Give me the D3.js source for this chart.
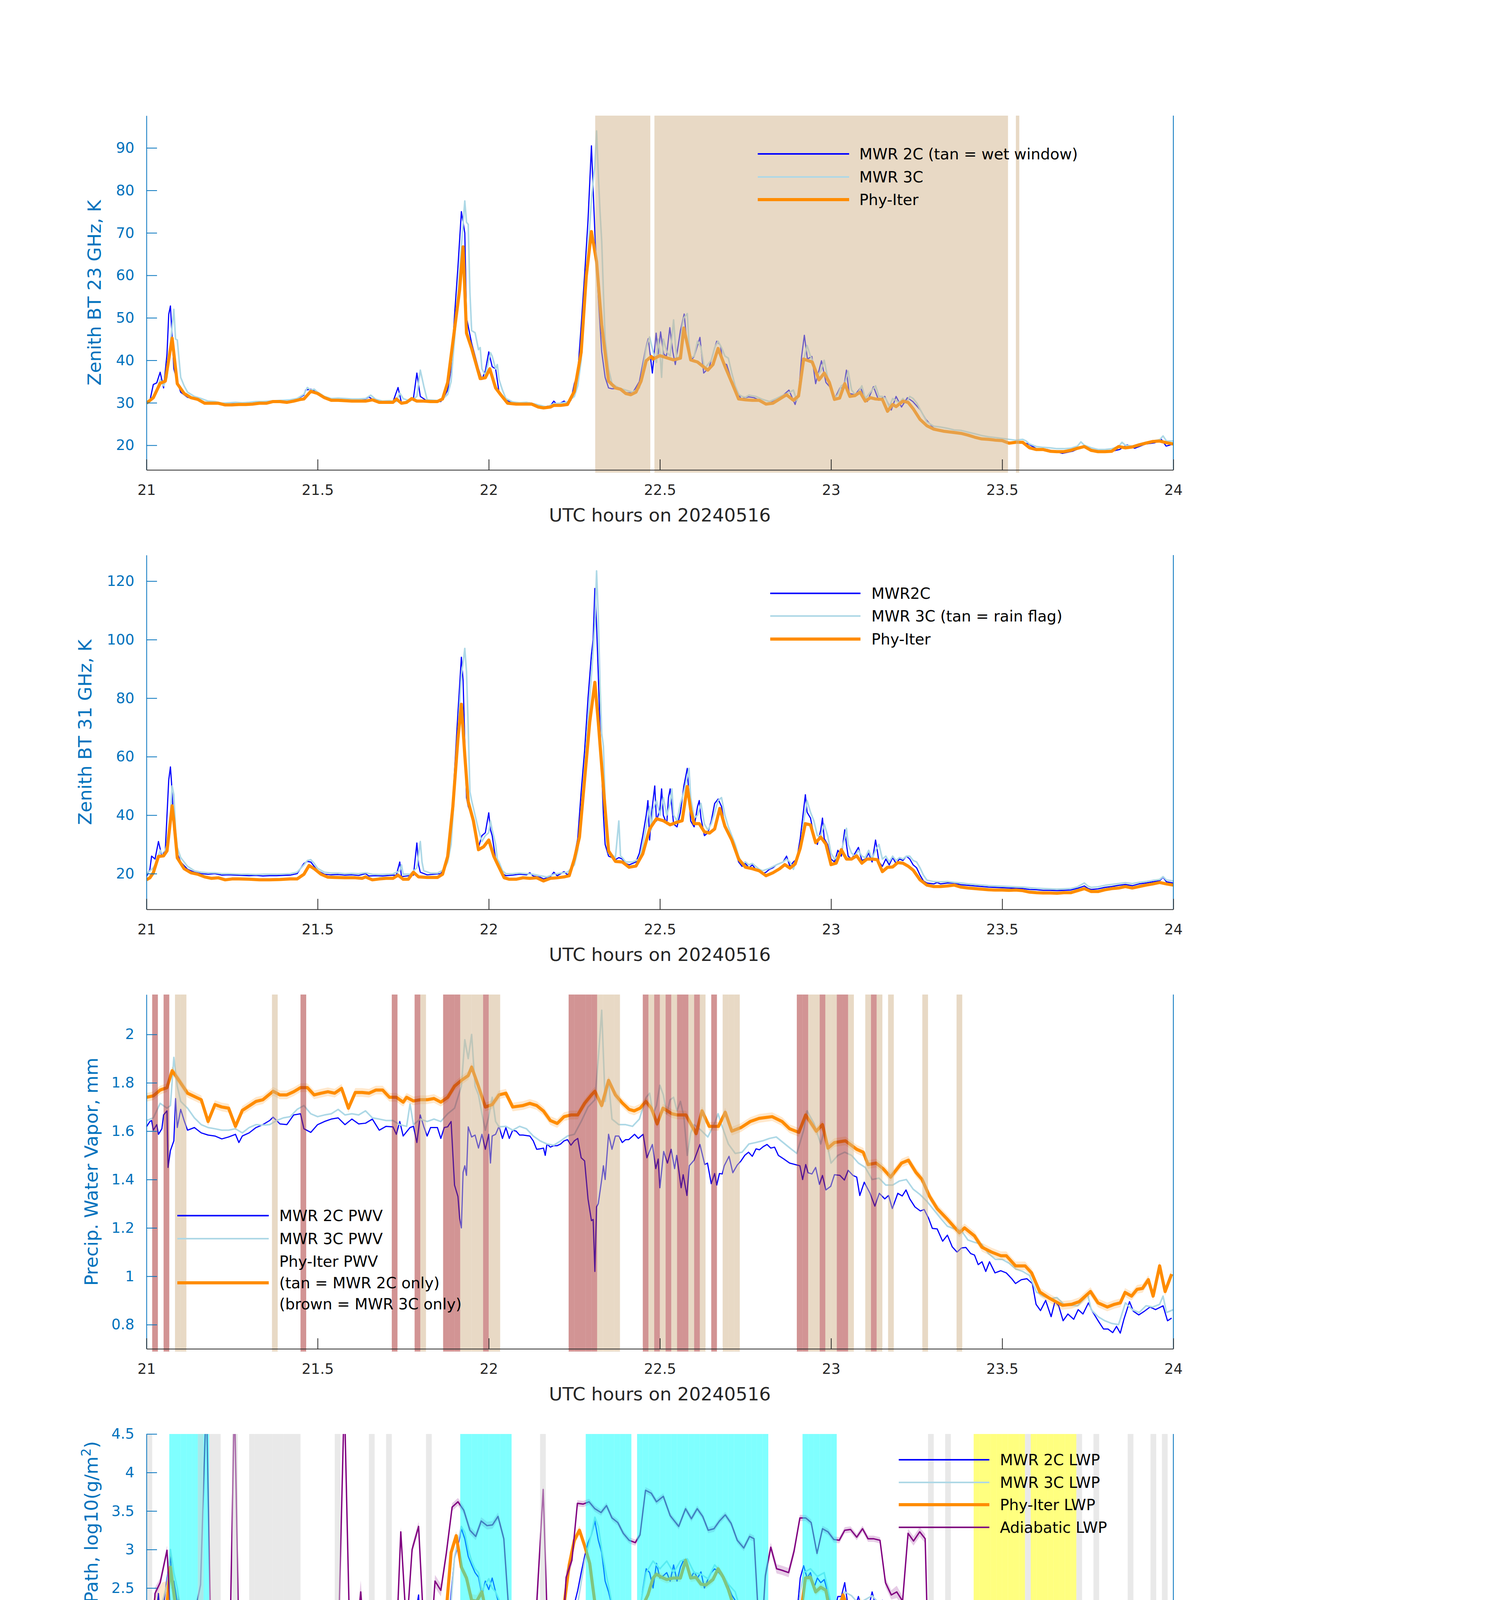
<!DOCTYPE html>
<html>
<head>
<meta charset="utf-8">
<script src="https://cdn.jsdelivr.net/npm/d3@7"></script>
<style>
  body { margin: 0; background: #fff; }
  svg { display: block; }
  text { font-family: "DejaVu Sans", sans-serif; }
</style>
</head>
<body>
<script>
// ---------------- data ----------------
const xTicks = [21, 21.5, 22, 22.5, 23, 23.5, 24];

// panel 1 : zenith BT 23 GHz
const tb23Mwr2c = [[21.00,30.0],[21.01,30.5],[21.02,34.3],[21.03,34.7],[21.04,37.2],[21.05,33.5],[21.06,41.5],[21.065,50.8],[21.07,52.8],[21.08,38.0],[21.09,35.0],[21.10,32.5],[21.12,31.3],[21.14,30.9],[21.16,30.3],[21.18,30.0],[21.20,30.1],[21.22,29.8],[21.24,29.9],[21.26,30.0],[21.28,29.9],[21.30,30.0],[21.32,30.1],[21.34,30.2],[21.36,30.3],[21.38,30.4],[21.40,30.4],[21.42,30.5],[21.44,30.9],[21.46,31.8],[21.465,33.0],[21.48,33.2],[21.50,32.4],[21.52,31.2],[21.54,30.9],[21.56,30.9],[21.58,30.8],[21.60,30.7],[21.62,30.8],[21.64,30.9],[21.65,31.4],[21.66,30.8],[21.68,30.2],[21.70,30.3],[21.72,30.2],[21.735,33.6],[21.745,30.0],[21.76,30.3],[21.78,31.1],[21.79,37.0],[21.80,31.5],[21.82,30.4],[21.84,30.5],[21.86,30.3],[21.87,31.5],[21.88,33.0],[21.89,38.0],[21.90,50.5],[21.91,62.0],[21.92,75.0],[21.93,70.0],[21.935,50.0],[21.95,44.0],[21.97,38.0],[21.98,35.5],[21.99,37.5],[22.00,42.0],[22.01,38.5],[22.02,38.0],[22.03,32.5],[22.04,31.5],[22.06,30.3],[22.08,29.9],[22.10,29.9],[22.12,30.0],[22.14,29.6],[22.16,29.0],[22.18,29.3],[22.19,30.4],[22.20,29.5],[22.22,30.4],[22.23,29.8],[22.24,30.6],[22.25,34.5],[22.26,37.0],[22.27,48.0],[22.28,60.0],[22.29,73.0],[22.30,90.5],[22.31,70.0],[22.32,55.0],[22.33,42.0],[22.34,36.0],[22.35,33.5],[22.36,33.3],[22.38,33.4],[22.40,32.4],[22.42,32.3],[22.44,35.0],[22.459,43.0],[22.466,45.1],[22.478,37.0],[22.489,46.4],[22.495,41.5],[22.502,46.7],[22.511,41.5],[22.519,40.9],[22.529,47.7],[22.538,41.9],[22.545,39.0],[22.56,47.0],[22.571,50.9],[22.579,43.8],[22.59,39.9],[22.60,40.9],[22.617,45.4],[22.628,37.0],[22.644,38.3],[22.655,41.5],[22.666,44.5],[22.677,43.5],[22.684,39.3],[22.695,39.0],[22.709,35.4],[22.726,32.8],[22.737,30.9],[22.759,31.4],[22.775,31.2],[22.791,30.6],[22.811,29.6],[22.83,30.3],[22.852,31.2],[22.877,33.0],[22.895,29.6],[22.906,32.8],[22.914,40.9],[22.922,45.9],[22.931,40.3],[22.944,40.9],[22.955,34.5],[22.972,39.9],[22.985,34.8],[22.999,33.5],[23.01,30.9],[23.026,33.5],[23.037,33.5],[23.045,37.7],[23.053,32.2],[23.07,31.9],[23.086,33.5],[23.106,30.3],[23.124,33.8],[23.139,30.6],[23.157,31.5],[23.176,28.3],[23.19,31.5],[23.206,29.0],[23.223,31.2],[23.239,30.3],[23.261,28.3],[23.277,26.1],[23.299,24.1],[23.321,23.5],[23.348,23.0],[23.381,22.8],[23.419,22.0],[23.452,21.4],[23.49,21.1],[23.523,20.7],[23.556,20.7],[23.577,20.3],[23.604,19.0],[23.631,19.0],[23.652,18.6],[23.676,18.1],[23.706,18.6],[23.739,19.8],[23.761,19.0],[23.788,18.3],[23.815,18.5],[23.843,19.0],[23.865,20.1],[23.887,19.3],[23.919,20.3],[23.946,20.6],[23.964,21.5],[23.979,19.8],[24.00,20.3]];
const tb23Mwr3c = [[21.00,30.0],[21.02,31.5],[21.03,33.0],[21.04,35.5],[21.05,34.0],[21.06,36.0],[21.07,44.0],[21.08,52.0],[21.085,45.0],[21.09,44.8],[21.10,36.0],[21.11,34.0],[21.12,32.5],[21.14,31.5],[21.16,31.0],[21.18,30.4],[21.20,30.3],[21.22,29.9],[21.24,30.0],[21.26,30.1],[21.28,30.0],[21.30,30.1],[21.32,30.3],[21.34,30.3],[21.36,30.4],[21.38,30.5],[21.40,30.6],[21.42,30.7],[21.44,31.0],[21.46,32.0],[21.47,33.6],[21.48,33.0],[21.49,33.2],[21.50,32.5],[21.52,31.5],[21.54,31.0],[21.56,31.1],[21.58,31.0],[21.60,30.9],[21.62,30.9],[21.64,31.0],[21.655,31.8],[21.67,30.8],[21.69,30.4],[21.71,30.5],[21.73,30.3],[21.74,32.3],[21.75,31.0],[21.77,30.4],[21.79,31.5],[21.80,37.7],[21.81,34.0],[21.82,30.7],[21.84,30.6],[21.86,30.5],[21.88,32.0],[21.89,35.0],[21.90,45.0],[21.91,55.0],[21.92,67.0],[21.93,77.5],[21.935,72.5],[21.94,72.0],[21.945,56.0],[21.95,47.0],[21.96,46.5],[21.97,42.5],[21.975,43.0],[21.98,38.0],[21.99,36.5],[22.00,40.0],[22.005,41.8],[22.01,41.0],[22.02,38.0],[22.025,39.0],[22.03,35.5],[22.04,33.0],[22.05,31.0],[22.07,30.2],[22.09,30.0],[22.11,30.1],[22.13,29.8],[22.15,29.4],[22.17,29.0],[22.19,29.8],[22.21,29.9],[22.23,30.2],[22.25,31.5],[22.26,34.0],[22.27,40.0],[22.28,52.0],[22.29,65.0],[22.30,78.0],[22.31,86.0],[22.315,94.0],[22.32,84.0],[22.325,75.0],[22.33,68.0],[22.335,56.0],[22.34,45.0],[22.35,38.0],[22.36,34.5],[22.38,33.5],[22.40,33.0],[22.42,32.5],[22.44,33.5],[22.45,38.0],[22.46,43.0],[22.47,45.5],[22.48,42.0],[22.49,39.5],[22.495,45.0],[22.50,42.0],[22.505,36.0],[22.51,45.0],[22.52,42.0],[22.53,41.0],[22.54,49.5],[22.545,44.0],[22.55,40.0],[22.56,41.5],[22.565,48.0],[22.57,50.0],[22.58,51.0],[22.585,44.0],[22.59,40.5],[22.60,41.0],[22.61,44.5],[22.62,43.0],[22.63,38.0],[22.64,39.0],[22.65,40.0],[22.66,43.0],[22.67,44.5],[22.68,43.0],[22.69,41.0],[22.70,40.5],[22.71,37.0],[22.72,34.0],[22.73,32.0],[22.74,31.5],[22.75,31.3],[22.76,31.8],[22.78,31.5],[22.80,30.8],[22.82,30.3],[22.84,31.0],[22.86,31.8],[22.88,32.5],[22.89,33.0],[22.90,30.5],[22.91,33.0],[22.92,40.0],[22.93,43.5],[22.94,41.0],[22.95,39.0],[22.96,36.5],[22.97,37.5],[22.98,40.0],[22.99,36.0],[23.00,33.0],[23.01,31.0],[23.02,32.0],[23.03,34.0],[23.04,34.5],[23.05,37.5],[23.06,33.0],[23.07,32.0],[23.08,32.5],[23.09,34.0],[23.10,31.0],[23.11,32.0],[23.12,33.0],[23.13,34.0],[23.14,31.5],[23.15,31.5],[23.16,31.0],[23.17,29.0],[23.18,31.0],[23.19,30.5],[23.20,30.0],[23.21,31.0],[23.22,30.0],[23.23,31.5],[23.24,31.0],[23.25,30.0],[23.26,28.5],[23.27,27.0],[23.28,25.5],[23.30,24.5],[23.32,24.3],[23.34,24.0],[23.36,23.6],[23.38,23.5],[23.40,23.1],[23.42,22.7],[23.44,22.3],[23.46,22.0],[23.48,21.8],[23.50,21.6],[23.52,21.4],[23.54,21.2],[23.56,21.4],[23.57,21.0],[23.58,20.3],[23.60,19.7],[23.62,19.5],[23.64,19.4],[23.66,19.2],[23.68,19.2],[23.70,19.3],[23.72,19.8],[23.73,20.8],[23.74,20.0],[23.76,19.4],[23.78,19.0],[23.80,19.0],[23.82,19.2],[23.84,19.7],[23.85,20.7],[23.86,20.0],[23.88,19.8],[23.90,20.3],[23.92,20.7],[23.94,21.0],[23.96,21.3],[23.97,22.2],[23.98,21.0],[24.00,21.0]];
const tb23Phy = [[21.00,29.9],[21.02,31.2],[21.04,34.6],[21.055,35.1],[21.075,45.2],[21.09,34.5],[21.11,32.2],[21.13,31.2],[21.15,30.8],[21.17,29.9],[21.19,29.9],[21.21,29.9],[21.23,29.5],[21.25,29.5],[21.27,29.6],[21.29,29.6],[21.31,29.7],[21.33,29.9],[21.35,29.9],[21.37,30.3],[21.39,30.3],[21.41,30.1],[21.43,30.4],[21.45,30.8],[21.46,30.9],[21.48,32.7],[21.50,32.2],[21.52,31.2],[21.54,30.6],[21.56,30.6],[21.58,30.5],[21.60,30.4],[21.62,30.4],[21.64,30.4],[21.66,30.7],[21.68,30.1],[21.70,30.1],[21.72,30.1],[21.73,30.9],[21.745,29.9],[21.76,30.1],[21.775,31.0],[21.79,30.4],[21.81,30.4],[21.83,30.3],[21.85,30.3],[21.865,30.9],[21.88,34.8],[21.915,56.7],[21.925,66.7],[21.935,46.4],[21.95,42.8],[21.975,35.7],[21.99,35.9],[22.003,38.0],[22.02,33.5],[22.035,31.9],[22.055,29.9],[22.08,29.7],[22.10,29.7],[22.125,29.7],[22.145,29.0],[22.16,28.8],[22.18,29.0],[22.19,29.4],[22.21,29.4],[22.23,29.6],[22.25,32.7],[22.27,41.9],[22.285,59.9],[22.30,70.3],[22.315,63.2],[22.33,48.3],[22.35,35.1],[22.37,33.5],[22.385,33.2],[22.40,32.2],[22.415,31.9],[22.43,32.5],[22.445,35.1],[22.46,39.9],[22.475,40.9],[22.48,40.3],[22.50,41.1],[22.52,40.6],[22.54,40.1],[22.56,40.5],[22.57,47.6],[22.59,40.1],[22.61,39.6],[22.63,38.3],[22.64,37.7],[22.655,39.0],[22.67,42.8],[22.69,38.6],[22.71,34.8],[22.73,30.9],[22.75,30.7],[22.77,30.6],[22.79,30.6],[22.81,29.7],[22.83,29.9],[22.85,30.9],[22.87,31.9],[22.89,30.6],[22.905,31.6],[22.92,40.3],[22.945,39.6],[22.965,35.4],[22.98,37.0],[22.995,34.8],[23.01,30.8],[23.025,31.1],[23.04,34.5],[23.055,31.5],[23.07,31.7],[23.085,32.5],[23.10,30.4],[23.115,31.2],[23.13,30.9],[23.15,30.8],[23.165,28.0],[23.18,29.6],[23.19,29.1],[23.21,30.4],[23.225,30.1],[23.24,28.6],[23.26,26.1],[23.28,24.6],[23.30,23.8],[23.33,23.3],[23.36,23.0],[23.38,22.8],[23.40,22.4],[23.42,21.9],[23.44,21.5],[23.46,21.4],[23.48,21.2],[23.50,21.1],[23.52,20.5],[23.54,20.7],[23.56,20.7],[23.58,19.4],[23.60,19.0],[23.62,19.0],[23.64,18.6],[23.66,18.5],[23.68,18.5],[23.70,18.8],[23.72,19.3],[23.74,19.7],[23.76,18.8],[23.78,18.5],[23.80,18.5],[23.82,18.6],[23.84,19.7],[23.86,19.4],[23.88,19.6],[23.90,20.1],[23.92,20.5],[23.94,20.9],[23.96,21.0],[23.98,20.6],[24.00,20.3]];
const wetWindow = [[22.311,22.472],[22.484,23.517],[23.540,23.550]];

// panel 2 : zenith BT 31 GHz
const tb31Mwr2c = [[21.00,19.0],[21.01,21.5],[21.015,26.0],[21.025,25.0],[21.035,31.0],[21.045,26.0],[21.055,28.0],[21.065,52.0],[21.07,56.5],[21.075,48.0],[21.08,35.0],[21.09,27.0],[21.10,24.0],[21.12,21.5],[21.14,20.5],[21.16,20.0],[21.18,19.8],[21.20,20.0],[21.22,19.5],[21.24,19.6],[21.26,19.5],[21.28,19.4],[21.30,19.3],[21.32,19.4],[21.34,19.2],[21.36,19.3],[21.38,19.3],[21.40,19.4],[21.42,19.5],[21.44,20.0],[21.46,23.5],[21.47,24.2],[21.48,24.0],[21.49,22.5],[21.50,21.0],[21.52,19.8],[21.54,19.6],[21.56,19.7],[21.58,19.5],[21.60,19.6],[21.62,19.4],[21.64,20.0],[21.65,19.2],[21.67,19.3],[21.69,19.2],[21.71,19.4],[21.73,19.5],[21.74,24.0],[21.745,19.0],[21.76,19.2],[21.78,19.5],[21.79,30.5],[21.795,23.0],[21.80,20.5],[21.82,19.6],[21.84,19.8],[21.86,20.0],[21.87,22.0],[21.88,25.0],[21.89,35.0],[21.90,55.0],[21.91,75.0],[21.92,94.0],[21.925,86.0],[21.93,65.0],[21.935,46.0],[21.94,43.0],[21.95,40.0],[21.96,36.0],[21.97,29.0],[21.98,33.0],[21.99,34.0],[22.00,40.8],[22.005,35.0],[22.01,33.0],[22.02,25.0],[22.03,22.0],[22.04,20.0],[22.05,19.3],[22.07,19.5],[22.09,19.8],[22.11,19.6],[22.12,20.3],[22.13,19.2],[22.15,18.8],[22.16,18.2],[22.18,19.0],[22.19,20.5],[22.20,19.3],[22.22,20.7],[22.23,19.6],[22.24,20.8],[22.25,26.0],[22.26,32.0],[22.27,48.0],[22.28,62.0],[22.29,80.0],[22.30,95.0],[22.305,100.0],[22.31,117.5],[22.315,105.0],[22.32,88.0],[22.325,70.0],[22.33,55.0],[22.335,40.0],[22.34,30.0],[22.35,26.0],[22.36,25.5],[22.37,24.8],[22.38,25.5],[22.39,25.0],[22.40,23.5],[22.41,23.0],[22.42,23.5],[22.43,24.0],[22.44,27.0],[22.45,33.0],[22.46,40.0],[22.465,45.0],[22.47,31.5],[22.475,40.0],[22.48,45.0],[22.485,50.0],[22.49,38.0],[22.50,42.0],[22.505,49.0],[22.51,40.0],[22.52,37.0],[22.525,46.0],[22.53,49.0],[22.54,37.0],[22.55,36.0],[22.56,41.0],[22.57,50.0],[22.58,56.0],[22.585,46.0],[22.59,38.0],[22.60,36.0],[22.61,43.0],[22.615,45.0],[22.62,39.0],[22.63,33.0],[22.64,34.0],[22.65,38.0],[22.66,44.0],[22.67,45.5],[22.68,43.0],[22.69,36.0],[22.70,34.0],[22.71,31.0],[22.72,28.0],[22.73,24.0],[22.74,22.5],[22.75,23.5],[22.76,22.0],[22.77,23.0],[22.78,21.5],[22.79,21.0],[22.80,20.0],[22.81,20.5],[22.82,21.5],[22.83,22.0],[22.84,23.0],[22.85,23.5],[22.86,24.0],[22.87,26.0],[22.88,22.5],[22.89,24.0],[22.90,25.0],[22.91,32.0],[22.92,42.0],[22.925,47.0],[22.93,41.0],[22.94,39.0],[22.95,33.0],[22.96,30.0],[22.97,35.0],[22.975,39.0],[22.98,32.0],[22.99,30.0],[23.00,25.0],[23.01,24.0],[23.02,28.0],[23.03,26.0],[23.04,35.0],[23.045,30.0],[23.05,26.0],[23.06,25.0],[23.07,27.0],[23.08,29.0],[23.09,24.5],[23.10,25.0],[23.11,27.0],[23.12,24.0],[23.13,31.5],[23.135,28.0],[23.14,24.0],[23.15,22.5],[23.16,25.0],[23.17,23.0],[23.18,25.5],[23.19,23.5],[23.20,25.0],[23.21,24.5],[23.22,26.0],[23.23,25.0],[23.24,23.0],[23.25,22.0],[23.26,19.5],[23.27,17.5],[23.28,16.8],[23.30,16.5],[23.31,17.0],[23.32,16.5],[23.34,16.8],[23.36,16.8],[23.38,16.2],[23.40,16.0],[23.42,15.8],[23.44,15.6],[23.46,15.4],[23.48,15.3],[23.50,15.2],[23.52,15.1],[23.54,15.0],[23.56,14.9],[23.58,14.6],[23.60,14.5],[23.62,14.3],[23.64,14.3],[23.66,14.2],[23.68,14.3],[23.70,14.4],[23.72,15.0],[23.74,15.8],[23.75,15.0],[23.76,14.6],[23.78,14.8],[23.80,15.3],[23.82,15.6],[23.84,16.0],[23.86,16.3],[23.88,15.9],[23.90,16.5],[23.92,16.8],[23.94,17.2],[23.96,17.6],[23.97,18.8],[23.98,17.2],[24.00,16.8]];
const tb31Mwr3c = [[21.00,20.0],[21.02,22.0],[21.03,24.0],[21.04,28.0],[21.05,26.0],[21.06,30.0],[21.07,40.0],[21.075,50.0],[21.08,47.0],[21.085,35.0],[21.09,29.0],[21.10,25.5],[21.12,22.5],[21.14,21.0],[21.16,20.5],[21.18,20.3],[21.20,20.3],[21.22,20.0],[21.24,20.0],[21.26,19.9],[21.28,19.8],[21.30,19.8],[21.32,19.7],[21.34,19.8],[21.36,19.8],[21.38,19.8],[21.40,19.9],[21.42,20.0],[21.44,20.5],[21.46,23.0],[21.47,24.5],[21.48,24.8],[21.49,23.5],[21.50,21.8],[21.52,20.5],[21.54,20.2],[21.56,20.2],[21.58,20.0],[21.60,20.1],[21.62,20.0],[21.64,20.3],[21.66,19.8],[21.68,19.7],[21.70,19.8],[21.72,19.9],[21.74,21.0],[21.745,23.0],[21.75,19.8],[21.77,19.8],[21.79,22.0],[21.80,31.0],[21.805,24.0],[21.81,21.0],[21.83,20.2],[21.85,20.2],[21.87,21.5],[21.88,24.0],[21.89,30.0],[21.90,48.0],[21.91,68.0],[21.92,88.0],[21.925,92.0],[21.93,97.0],[21.935,89.0],[21.94,70.0],[21.945,48.0],[21.95,45.0],[21.96,40.0],[21.97,35.0],[21.98,31.0],[21.99,33.0],[22.00,34.0],[22.005,38.0],[22.01,35.0],[22.02,30.0],[22.025,25.0],[22.03,24.0],[22.04,21.0],[22.05,20.0],[22.07,20.0],[22.09,20.2],[22.11,20.0],[22.13,19.8],[22.15,19.3],[22.17,18.9],[22.19,19.8],[22.21,20.2],[22.23,20.5],[22.25,23.0],[22.26,28.0],[22.27,38.0],[22.28,55.0],[22.29,72.0],[22.30,88.0],[22.31,105.0],[22.315,123.5],[22.32,108.0],[22.325,85.0],[22.33,68.0],[22.335,63.5],[22.34,45.0],[22.345,32.0],[22.35,27.0],[22.36,26.5],[22.37,25.5],[22.38,38.0],[22.385,26.0],[22.39,25.5],[22.40,24.0],[22.42,24.0],[22.44,25.0],[22.45,30.0],[22.46,36.0],[22.47,43.0],[22.475,35.0],[22.48,42.0],[22.49,45.0],[22.50,40.0],[22.51,46.0],[22.52,40.0],[22.53,44.0],[22.535,49.0],[22.54,40.0],[22.55,38.0],[22.56,44.0],[22.57,48.0],[22.58,53.0],[22.585,56.0],[22.59,46.0],[22.60,39.0],[22.61,40.0],[22.62,44.0],[22.63,37.0],[22.64,35.0],[22.65,37.0],[22.66,41.0],[22.67,45.0],[22.68,46.0],[22.69,40.0],[22.70,36.0],[22.71,33.0],[22.72,30.0],[22.73,26.0],[22.74,23.5],[22.75,24.0],[22.76,23.0],[22.77,23.5],[22.78,22.5],[22.79,21.5],[22.80,21.0],[22.82,21.8],[22.84,23.0],[22.86,24.0],[22.87,25.0],[22.88,24.0],[22.89,21.5],[22.90,25.0],[22.91,28.0],[22.92,38.0],[22.93,45.0],[22.935,43.0],[22.94,41.0],[22.95,38.0],[22.96,33.0],[22.97,33.0],[22.98,37.0],[22.99,33.0],[23.00,27.0],[23.01,25.0],[23.02,26.0],[23.03,28.0],[23.04,32.0],[23.045,35.5],[23.05,30.0],[23.06,27.0],[23.07,26.0],[23.08,28.0],[23.09,26.0],[23.10,25.5],[23.11,28.0],[23.12,25.0],[23.13,28.0],[23.14,30.0],[23.15,25.0],[23.16,26.0],[23.17,24.0],[23.18,26.0],[23.19,24.5],[23.20,25.5],[23.21,25.0],[23.22,26.0],[23.23,26.0],[23.24,24.5],[23.25,24.0],[23.26,22.0],[23.27,19.5],[23.28,17.8],[23.30,17.3],[23.32,17.2],[23.34,17.3],[23.36,17.0],[23.38,16.8],[23.40,16.5],[23.42,16.3],[23.44,16.1],[23.46,15.9],[23.48,15.8],[23.50,15.7],[23.52,15.6],[23.54,15.5],[23.56,15.4],[23.58,15.2],[23.60,15.0],[23.62,14.9],[23.64,14.8],[23.66,14.7],[23.68,14.8],[23.70,14.9],[23.72,15.5],[23.74,16.8],[23.75,15.8],[23.76,15.3],[23.78,15.5],[23.80,16.0],[23.82,16.3],[23.84,16.6],[23.86,16.9],[23.88,16.6],[23.90,17.0],[23.92,17.3],[23.94,17.7],[23.96,18.0],[23.97,19.0],[23.98,17.8],[24.00,17.5]];
const tb31Phy = [[21.00,17.9],[21.01,18.6],[21.02,20.3],[21.035,25.9],[21.05,26.1],[21.06,27.8],[21.075,43.2],[21.08,38.1],[21.09,25.4],[21.11,21.7],[21.13,20.3],[21.15,19.8],[21.17,18.9],[21.19,18.4],[21.21,18.6],[21.23,17.9],[21.25,18.2],[21.27,18.2],[21.30,18.1],[21.33,17.9],[21.36,17.9],[21.39,18.0],[21.42,18.2],[21.44,18.2],[21.46,19.8],[21.475,22.8],[21.49,21.7],[21.51,19.8],[21.53,18.8],[21.55,18.7],[21.58,18.6],[21.61,18.6],[21.63,18.4],[21.64,18.9],[21.66,17.9],[21.68,18.2],[21.70,18.4],[21.72,18.4],[21.735,19.5],[21.75,18.1],[21.765,18.1],[21.78,20.5],[21.795,18.9],[21.82,18.7],[21.85,18.7],[21.865,19.8],[21.88,25.9],[21.895,42.8],[21.91,66.2],[21.92,77.9],[21.93,60.5],[21.94,44.6],[21.955,38.1],[21.97,28.2],[21.985,29.2],[22.00,31.5],[22.015,25.9],[22.03,22.2],[22.045,18.6],[22.06,18.1],[22.08,18.1],[22.10,18.6],[22.12,18.4],[22.14,18.6],[22.16,17.5],[22.18,18.4],[22.20,18.6],[22.22,18.9],[22.235,19.3],[22.25,25.0],[22.265,32.5],[22.28,52.1],[22.295,71.8],[22.31,85.4],[22.32,71.8],[22.335,49.3],[22.35,27.8],[22.37,24.2],[22.39,24.0],[22.41,22.2],[22.43,22.6],[22.45,26.8],[22.47,35.3],[22.49,38.8],[22.51,38.1],[22.53,36.7],[22.55,37.6],[22.565,38.1],[22.58,49.8],[22.59,41.8],[22.60,37.1],[22.615,37.1],[22.63,34.3],[22.645,33.9],[22.66,35.3],[22.675,42.3],[22.69,36.2],[22.71,31.5],[22.73,25.0],[22.75,22.2],[22.77,21.7],[22.79,21.0],[22.81,19.3],[22.83,20.3],[22.85,21.7],[22.865,23.1],[22.88,21.9],[22.895,23.3],[22.91,28.7],[22.925,37.1],[22.94,36.7],[22.955,30.6],[22.97,32.5],[22.985,30.1],[23.00,23.1],[23.015,23.6],[23.03,28.2],[23.045,25.0],[23.06,25.0],[23.075,26.1],[23.09,23.6],[23.105,25.0],[23.12,25.0],[23.135,24.8],[23.15,20.7],[23.165,22.2],[23.18,22.3],[23.195,23.8],[23.21,23.6],[23.225,22.6],[23.24,21.2],[23.26,17.9],[23.28,16.1],[23.30,15.6],[23.32,15.6],[23.34,15.8],[23.36,16.1],[23.38,15.4],[23.40,15.1],[23.42,14.9],[23.44,14.7],[23.46,14.5],[23.48,14.4],[23.50,14.4],[23.52,14.3],[23.54,14.4],[23.56,14.2],[23.58,13.7],[23.60,13.5],[23.62,13.4],[23.64,13.4],[23.66,13.3],[23.68,13.5],[23.70,13.5],[23.72,14.2],[23.74,14.9],[23.76,13.9],[23.78,13.9],[23.80,14.5],[23.82,14.9],[23.84,15.1],[23.86,15.6],[23.88,15.1],[23.90,15.6],[23.92,16.1],[23.94,16.5],[23.96,17.0],[23.98,16.5],[24.00,16.1]];

// panel 3 : precipitable water vapour
const pwvMwr2c = [[21.00,1.618],[21.01,1.64],[21.015,1.644],[21.02,1.604],[21.03,1.627],[21.035,1.587],[21.045,1.61],[21.05,1.667],[21.06,1.684],[21.063,1.45],[21.07,1.52],[21.08,1.56],[21.085,1.735],[21.09,1.615],[21.10,1.69],[21.11,1.644],[21.12,1.604],[21.14,1.615],[21.16,1.593],[21.18,1.584],[21.20,1.58],[21.22,1.568],[21.24,1.576],[21.26,1.587],[21.27,1.553],[21.28,1.58],[21.30,1.593],[21.32,1.615],[21.34,1.627],[21.36,1.644],[21.37,1.658],[21.39,1.63],[21.41,1.627],[21.43,1.667],[21.45,1.672],[21.46,1.61],[21.48,1.595],[21.50,1.627],[21.52,1.64],[21.54,1.65],[21.56,1.655],[21.58,1.627],[21.60,1.65],[21.62,1.63],[21.64,1.633],[21.66,1.65],[21.68,1.604],[21.70,1.62],[21.72,1.618],[21.73,1.587],[21.74,1.64],[21.75,1.58],[21.77,1.615],[21.78,1.62],[21.79,1.553],[21.80,1.667],[21.81,1.62],[21.82,1.58],[21.83,1.615],[21.85,1.615],[21.86,1.57],[21.87,1.615],[21.88,1.618],[21.89,1.64],[21.90,1.377],[21.91,1.33],[21.915,1.24],[21.92,1.20],[21.925,1.43],[21.93,1.457],[21.935,1.417],[21.94,1.618],[21.95,1.576],[21.96,1.584],[21.97,1.53],[21.98,1.587],[21.99,1.525],[22.00,1.587],[22.005,1.468],[22.01,1.58],[22.02,1.587],[22.03,1.62],[22.04,1.57],[22.05,1.615],[22.06,1.57],[22.07,1.604],[22.08,1.60],[22.09,1.584],[22.10,1.584],[22.12,1.58],[22.13,1.56],[22.14,1.525],[22.15,1.527],[22.16,1.53],[22.165,1.50],[22.17,1.547],[22.18,1.534],[22.19,1.54],[22.20,1.54],[22.21,1.547],[22.22,1.56],[22.23,1.565],[22.24,1.542],[22.25,1.56],[22.26,1.57],[22.27,1.49],[22.28,1.477],[22.29,1.32],[22.30,1.23],[22.305,1.235],[22.31,1.02],[22.315,1.287],[22.32,1.30],[22.33,1.40],[22.335,1.457],[22.34,1.40],[22.35,1.587],[22.36,1.525],[22.37,1.58],[22.38,1.58],[22.39,1.553],[22.40,1.565],[22.409,1.565],[22.426,1.587],[22.437,1.57],[22.451,1.587],[22.462,1.49],[22.478,1.545],[22.488,1.445],[22.495,1.485],[22.50,1.366],[22.511,1.516],[22.522,1.468],[22.533,1.525],[22.543,1.445],[22.549,1.50],[22.555,1.44],[22.562,1.366],[22.568,1.42],[22.579,1.334],[22.586,1.457],[22.60,1.48],[22.617,1.545],[22.631,1.462],[22.639,1.468],[22.65,1.383],[22.66,1.425],[22.666,1.377],[22.674,1.425],[22.682,1.423],[22.688,1.457],[22.702,1.496],[22.713,1.428],[22.726,1.46],[22.737,1.477],[22.748,1.50],[22.759,1.513],[22.77,1.496],[22.781,1.527],[22.791,1.523],[22.802,1.536],[22.813,1.545],[22.824,1.53],[22.835,1.534],[22.846,1.50],[22.862,1.485],[22.879,1.468],[22.895,1.462],[22.909,1.457],[22.917,1.40],[22.926,1.462],[22.933,1.428],[22.944,1.423],[22.955,1.45],[22.966,1.38],[22.975,1.417],[22.985,1.357],[22.999,1.372],[23.01,1.42],[23.026,1.417],[23.039,1.398],[23.05,1.438],[23.064,1.417],[23.075,1.41],[23.084,1.334],[23.097,1.389],[23.114,1.343],[23.128,1.29],[23.141,1.343],[23.157,1.32],[23.168,1.334],[23.179,1.28],[23.195,1.343],[23.208,1.332],[23.219,1.357],[23.23,1.32],[23.245,1.287],[23.261,1.27],[23.272,1.276],[23.285,1.24],[23.296,1.198],[23.31,1.196],[23.326,1.145],[23.34,1.17],[23.354,1.122],[23.368,1.10],[23.381,1.117],[23.394,1.119],[23.408,1.094],[23.419,1.088],[23.43,1.048],[23.441,1.06],[23.452,1.02],[23.463,1.06],[23.479,1.014],[23.496,1.023],[23.512,1.014],[23.528,0.99],[23.539,0.97],[23.556,0.986],[23.572,0.99],[23.588,0.97],[23.599,0.884],[23.612,0.858],[23.627,0.90],[23.643,0.833],[23.654,0.895],[23.665,0.878],[23.678,0.816],[23.692,0.844],[23.709,0.822],[23.722,0.862],[23.736,0.844],[23.752,0.89],[23.763,0.856],[23.783,0.81],[23.796,0.782],[23.809,0.782],[23.823,0.767],[23.834,0.793],[23.845,0.765],[23.856,0.824],[23.872,0.895],[23.883,0.856],[23.899,0.84],[23.916,0.856],[23.932,0.873],[23.948,0.862],[23.97,0.878],[23.983,0.816],[23.995,0.827]];
const pwvMwr3c = [[21.00,1.644],[21.02,1.655],[21.04,1.715],[21.06,1.695],[21.07,1.706],[21.08,1.905],[21.09,1.786],[21.10,1.723],[21.12,1.695],[21.14,1.655],[21.16,1.627],[21.18,1.615],[21.20,1.61],[21.22,1.604],[21.24,1.604],[21.26,1.61],[21.28,1.593],[21.30,1.615],[21.32,1.627],[21.34,1.625],[21.36,1.627],[21.38,1.644],[21.40,1.655],[21.42,1.66],[21.44,1.69],[21.46,1.706],[21.48,1.672],[21.50,1.66],[21.52,1.667],[21.54,1.672],[21.56,1.69],[21.58,1.667],[21.60,1.672],[21.62,1.667],[21.64,1.684],[21.66,1.655],[21.68,1.65],[21.70,1.644],[21.72,1.644],[21.74,1.627],[21.76,1.62],[21.77,1.712],[21.78,1.627],[21.80,1.65],[21.82,1.64],[21.84,1.65],[21.86,1.64],[21.88,1.672],[21.90,1.695],[21.92,1.786],[21.93,1.978],[21.94,1.90],[21.95,2.0],[21.96,1.786],[21.97,1.75],[21.98,1.672],[21.99,1.604],[22.00,1.66],[22.01,1.74],[22.02,1.64],[22.03,1.618],[22.05,1.62],[22.07,1.604],[22.09,1.62],[22.11,1.61],[22.13,1.58],[22.15,1.56],[22.17,1.547],[22.19,1.542],[22.21,1.56],[22.23,1.58],[22.25,1.587],[22.27,1.64],[22.29,1.70],[22.31,1.73],[22.32,1.90],[22.33,2.10],[22.34,1.723],[22.35,1.81],[22.36,1.65],[22.38,1.627],[22.40,1.627],[22.42,1.62],[22.44,1.65],[22.46,1.74],[22.47,1.757],[22.48,1.672],[22.49,1.706],[22.50,1.79],[22.51,1.75],[22.52,1.672],[22.53,1.73],[22.54,1.74],[22.55,1.684],[22.56,1.723],[22.57,1.66],[22.58,1.50],[22.59,1.593],[22.60,1.627],[22.62,1.604],[22.64,1.576],[22.66,1.633],[22.67,1.672],[22.68,1.627],[22.70,1.547],[22.72,1.508],[22.74,1.513],[22.76,1.547],[22.78,1.553],[22.80,1.56],[22.82,1.57],[22.84,1.576],[22.86,1.553],[22.88,1.53],[22.90,1.508],[22.92,1.604],[22.93,1.684],[22.95,1.633],[22.97,1.547],[22.98,1.604],[23.00,1.468],[23.02,1.50],[23.04,1.513],[23.06,1.50],[23.08,1.468],[23.10,1.45],[23.12,1.40],[23.14,1.406],[23.16,1.377],[23.18,1.377],[23.20,1.394],[23.22,1.40],[23.24,1.36],[23.26,1.338],[23.28,1.31],[23.30,1.275],[23.32,1.24],[23.34,1.207],[23.36,1.196],[23.38,1.19],[23.40,1.15],[23.42,1.14],[23.44,1.133],[23.46,1.094],[23.48,1.07],[23.50,1.07],[23.52,1.054],[23.54,1.03],[23.56,1.02],[23.58,1.003],[23.60,0.935],[23.62,0.918],[23.64,0.907],[23.66,0.912],[23.68,0.884],[23.70,0.88],[23.72,0.878],[23.74,0.907],[23.75,0.924],[23.76,0.862],[23.78,0.833],[23.80,0.816],[23.82,0.805],[23.84,0.80],[23.86,0.89],[23.88,0.862],[23.90,0.85],[23.92,0.878],[23.94,0.873],[23.96,0.884],[23.97,0.918],[23.98,0.85],[24.00,0.862]];
const pwvPhy = [[21.00,1.74],[21.02,1.746],[21.04,1.77],[21.06,1.78],[21.075,1.85],[21.09,1.82],[21.12,1.757],[21.16,1.73],[21.18,1.64],[21.20,1.71],[21.22,1.70],[21.24,1.695],[21.26,1.62],[21.28,1.686],[21.32,1.723],[21.34,1.73],[21.37,1.765],[21.39,1.75],[21.41,1.75],[21.43,1.763],[21.45,1.78],[21.47,1.78],[21.49,1.75],[21.51,1.757],[21.53,1.763],[21.55,1.757],[21.57,1.777],[21.59,1.695],[21.61,1.76],[21.63,1.76],[21.65,1.757],[21.67,1.77],[21.69,1.77],[21.71,1.74],[21.73,1.74],[21.75,1.72],[21.76,1.74],[21.78,1.725],[21.80,1.73],[21.82,1.73],[21.84,1.735],[21.86,1.72],[21.88,1.74],[21.90,1.786],[21.92,1.81],[21.94,1.83],[21.95,1.865],[21.97,1.785],[21.99,1.70],[22.01,1.71],[22.03,1.75],[22.05,1.757],[22.07,1.70],[22.10,1.706],[22.12,1.715],[22.14,1.706],[22.16,1.683],[22.18,1.644],[22.20,1.632],[22.22,1.66],[22.24,1.667],[22.26,1.667],[22.28,1.715],[22.30,1.75],[22.31,1.765],[22.33,1.706],[22.35,1.81],[22.37,1.75],[22.39,1.717],[22.41,1.69],[22.425,1.684],[22.442,1.695],[22.459,1.723],[22.475,1.695],[22.492,1.63],[22.509,1.695],[22.535,1.672],[22.551,1.667],[22.576,1.667],[22.606,1.59],[22.623,1.684],[22.644,1.62],[22.671,1.62],[22.691,1.678],[22.71,1.60],[22.737,1.615],[22.764,1.64],[22.79,1.653],[22.828,1.66],[22.857,1.64],[22.879,1.61],[22.906,1.595],[22.926,1.667],[22.957,1.60],[22.975,1.627],[22.991,1.53],[23.01,1.553],[23.042,1.56],[23.075,1.525],[23.094,1.513],[23.108,1.462],[23.132,1.468],[23.152,1.445],[23.174,1.41],[23.206,1.468],[23.226,1.48],[23.248,1.43],[23.266,1.40],[23.288,1.33],[23.31,1.28],[23.337,1.24],[23.375,1.18],[23.39,1.20],[23.419,1.167],[23.441,1.12],[23.469,1.10],[23.496,1.085],[23.512,1.085],[23.539,1.043],[23.567,1.043],[23.586,1.014],[23.61,0.935],[23.637,0.91],[23.676,0.88],[23.703,0.884],[23.725,0.895],[23.758,0.937],[23.78,0.89],[23.807,0.873],[23.828,0.884],[23.845,0.89],[23.859,0.933],[23.878,0.918],[23.894,0.946],[23.91,0.95],[23.927,0.986],[23.941,0.918],[23.96,1.043],[23.976,0.937],[23.995,1.009]];
const pwvPhyErr = 0.018;
// minutes after 21 UTC flagged as MWR 2C only (tan) and MWR 3C only (brown)
const pwvTanMinutes = [5,6,22,48,55,56,57,58,60,61,79,80,81,82,88,90,92,95,97,101,102,103,116,117,119,120,123,126,128,130,136,142];
const pwvBrownMinutes = [1,3,27,43,47,52,53,54,59,74,75,76,77,78,87,89,91,93,94,96,99,114,115,118,121,122,127];

// panel 4 : log10 liquid water path
const lwpMwr2c = [[21.00,1.63],[21.01,1.61],[21.02,1.98],[21.03,2.23],[21.035,2.43],[21.04,2.13],[21.05,2.27],[21.06,2.63],[21.07,2.91],[21.075,2.50],[21.08,2.59],[21.09,2.31],[21.10,2.15],[21.11,2.06],[21.12,1.91],[21.13,1.95],[21.14,1.86],[21.15,1.91],[21.16,1.84],[21.17,1.74],[21.18,1.79],[21.19,1.74],[21.20,1.82],[21.21,1.75],[21.22,1.72],[21.24,1.70],[21.25,1.72],[21.26,1.74],[21.27,1.75],[21.28,1.74],[21.29,1.75],[21.30,1.66],[21.32,1.72],[21.34,1.65],[21.36,1.63],[21.38,1.63],[21.40,1.66],[21.42,1.63],[21.44,1.68],[21.45,1.70],[21.46,2.13],[21.47,2.15],[21.48,2.11],[21.49,2.16],[21.50,2.00],[21.51,1.84],[21.52,1.74],[21.53,1.72],[21.54,1.75],[21.55,1.71],[21.56,1.74],[21.57,1.72],[21.58,1.75],[21.59,1.70],[21.60,1.72],[21.61,1.66],[21.62,1.69],[21.63,1.66],[21.64,1.77],[21.65,1.84],[21.66,1.66],[21.67,1.74],[21.68,1.66],[21.69,1.74],[21.70,1.66],[21.71,1.70],[21.72,1.66],[21.73,1.74],[21.74,1.66],[21.745,2.15],[21.75,1.88],[21.76,1.66],[21.77,1.70],[21.78,1.77],[21.79,2.27],[21.795,2.41],[21.80,1.95],[21.81,1.82],[21.82,1.75],[21.83,1.82],[21.84,1.75],[21.85,1.84],[21.86,1.95],[21.87,1.84],[21.88,1.91],[21.89,2.43],[21.90,2.89],[21.91,3.05],[21.92,3.27],[21.93,3.14],[21.94,2.91],[21.95,2.80],[21.96,2.70],[21.97,2.64],[21.98,2.41],[21.99,2.59],[22.00,2.48],[22.01,2.63],[22.02,2.45],[22.03,2.29],[22.04,2.06],[22.05,1.77],[22.055,1.66],[22.06,1.54],[22.07,1.82],[22.08,1.70],[22.09,1.81],[22.10,1.72],[22.11,1.82],[22.12,1.74],[22.13,1.84],[22.14,1.77],[22.15,1.65],[22.16,1.63],[22.17,1.61],[22.18,1.74],[22.19,1.91],[22.20,1.77],[22.21,1.81],[22.215,1.66],[22.22,1.91],[22.23,1.77],[22.24,1.88],[22.25,2.29],[22.26,2.47],[22.27,2.70],[22.28,2.91],[22.29,3.09],[22.30,3.19],[22.31,3.37],[22.32,3.12],[22.33,2.96],[22.34,2.59],[22.35,2.45],[22.36,2.27],[22.37,2.23],[22.38,2.20],[22.39,2.13],[22.40,2.16],[22.41,2.06],[22.42,2.13],[22.43,2.11],[22.44,2.13],[22.45,2.48],[22.46,2.75],[22.47,2.70],[22.48,2.50],[22.49,2.82],[22.50,2.63],[22.51,2.66],[22.52,2.70],[22.53,2.59],[22.54,2.80],[22.55,2.59],[22.56,2.77],[22.57,2.87],[22.58,2.77],[22.59,2.63],[22.60,2.71],[22.61,2.63],[22.62,2.71],[22.63,2.50],[22.64,2.61],[22.65,2.70],[22.66,2.75],[22.67,2.71],[22.68,2.66],[22.69,2.61],[22.70,2.52],[22.71,2.41],[22.72,2.34],[22.73,2.13],[22.74,2.04],[22.75,2.13],[22.76,2.00],[22.77,2.13],[22.78,1.98],[22.79,1.95],[22.80,1.75],[22.81,1.88],[22.82,1.81],[22.83,2.00],[22.84,2.04],[22.85,2.09],[22.86,2.27],[22.87,2.13],[22.88,2.29],[22.89,1.98],[22.90,2.15],[22.91,2.63],[22.92,2.79],[22.93,2.63],[22.94,2.70],[22.95,2.50],[22.96,2.63],[22.97,2.57],[22.98,2.61],[22.99,2.45],[23.00,2.22],[23.01,2.20],[23.02,2.39],[23.03,2.39],[23.04,2.57],[23.05,2.25],[23.06,2.30],[23.07,2.25],[23.08,2.39],[23.09,2.22],[23.10,2.27],[23.11,2.25],[23.12,2.45],[23.13,2.27],[23.14,2.30],[23.15,2.34],[23.16,2.16],[23.17,2.11],[23.175,2.32],[23.18,2.16],[23.19,2.20],[23.20,2.13],[23.21,2.27],[23.22,2.27],[23.23,2.18],[23.24,2.30],[23.25,2.16],[23.26,2.20],[23.27,2.06],[23.28,1.81],[23.29,1.70],[23.30,1.52],[23.31,1.59],[23.32,1.66],[23.33,1.54],[23.34,1.63],[23.35,1.66],[23.36,1.54],[23.37,1.70],[23.38,1.74],[23.39,1.54],[23.40,1.66],[23.41,1.54],[23.42,1.56],[23.44,1.50],[23.46,1.54],[23.48,1.43],[23.50,1.49],[23.52,1.50],[23.54,1.50],[23.56,1.52],[23.58,1.50],[23.60,1.43],[23.62,1.42],[23.64,1.40],[23.66,1.40],[23.68,1.47],[23.70,1.43],[23.71,1.34],[23.72,1.49],[23.73,1.59],[23.74,1.70],[23.75,1.63],[23.76,1.66],[23.77,1.61],[23.78,1.54],[23.79,1.57],[23.80,1.63],[23.81,1.66],[23.82,1.74],[23.83,1.74],[23.84,1.81],[23.85,1.77],[23.86,1.75],[23.87,1.79],[23.88,1.81],[23.89,1.66],[23.90,1.74],[23.91,1.77],[23.92,1.82],[23.93,1.82],[23.94,1.89],[23.95,1.88],[23.96,1.90],[23.965,2.01],[23.97,1.91],[23.98,1.93],[23.99,1.91],[24.00,1.89]];
const lwpMwr3c = [[21.00,1.55],[21.02,1.90],[21.04,2.20],[21.06,2.55],[21.07,3.0],[21.08,2.7],[21.09,2.5],[21.10,2.20],[21.12,1.95],[21.14,1.85],[21.16,1.75],[21.18,1.65],[21.20,1.60],[21.22,1.62],[21.24,1.55],[21.26,1.58],[21.28,1.55],[21.30,1.52],[21.32,1.50],[21.34,1.53],[21.36,1.50],[21.38,1.48],[21.40,1.52],[21.42,1.45],[21.44,1.42],[21.46,1.60],[21.47,2.05],[21.48,2.15],[21.49,2.10],[21.50,1.95],[21.52,1.65],[21.54,1.60],[21.56,1.58],[21.58,1.62],[21.60,1.60],[21.62,1.55],[21.64,1.58],[21.66,1.52],[21.68,1.50],[21.70,1.55],[21.72,1.50],[21.74,1.55],[21.76,1.52],[21.78,1.56],[21.80,1.70],[21.82,1.55],[21.84,1.60],[21.86,1.45],[21.88,1.75],[21.90,2.90],[21.91,3.10],[21.92,3.30],[21.93,3.22],[21.94,3.0],[21.95,2.85],[21.96,2.75],[21.97,2.70],[21.98,2.45],[21.99,2.55],[22.00,2.62],[22.01,2.50],[22.02,2.45],[22.03,2.35],[22.04,2.10],[22.05,1.85],[22.06,1.60],[22.08,1.50],[22.10,1.55],[22.12,1.52],[22.14,1.55],[22.16,1.45],[22.18,1.42],[22.20,1.50],[22.22,1.55],[22.24,1.60],[22.26,2.30],[22.28,2.85],[22.30,3.20],[22.31,3.42],[22.32,3.30],[22.33,3.0],[22.34,2.75],[22.36,2.30],[22.38,2.25],[22.40,2.20],[22.42,2.10],[22.44,2.20],[22.46,2.70],[22.48,2.85],[22.50,2.75],[22.52,2.85],[22.54,2.70],[22.56,2.85],[22.58,2.88],[22.60,2.70],[22.62,2.68],[22.64,2.62],[22.66,2.80],[22.68,2.70],[22.70,2.55],[22.72,2.45],[22.74,2.15],[22.76,2.05],[22.78,2.10],[22.80,1.90],[22.82,1.75],[22.84,1.90],[22.86,2.05],[22.88,2.10],[22.90,1.85],[22.91,2.45],[22.92,2.70],[22.94,2.75],[22.96,2.65],[22.98,2.70],[23.00,2.30],[23.02,2.30],[23.04,2.45],[23.06,2.40],[23.08,2.30],[23.10,2.35],[23.12,2.40],[23.14,2.30],[23.16,2.15],[23.18,2.30],[23.20,2.20],[23.22,2.25],[23.24,2.30],[23.26,2.15],[23.28,1.70],[23.30,1.45],[23.32,1.30],[23.34,1.45],[23.36,1.35],[23.38,1.40],[23.40,1.45],[23.42,1.35],[23.44,1.30],[23.46,1.28],[23.48,1.25],[23.50,1.22],[23.52,1.22],[23.54,1.18],[23.56,1.20],[23.58,1.18],[23.60,1.10],[23.62,1.12],[23.64,1.08],[23.66,1.05],[23.68,1.10],[23.70,1.00],[23.72,1.10],[23.74,1.30],[23.76,1.40],[23.78,1.25],[23.80,1.45],[23.82,1.52],[23.84,1.55],[23.86,1.58],[23.88,1.60],[23.90,1.62],[23.92,1.66],[23.94,1.70],[23.96,1.72],[23.98,1.75],[24.00,1.77]];
// [time, value, half-width of the uncertainty band]; null value = no retrieval
const lwpPhy = [[21.00,-0.3,1.6],[21.005,1.02,0.9],[21.02,1.66,0.7],[21.03,1.91,0.5],[21.045,2.27,0.3],[21.06,2.29,0.3],[21.07,2.77,0.2],[21.085,2.27,0.25],[21.10,2.02,0.3],[21.11,1.84,0.3],[21.125,1.72,0.3],[21.14,1.66,0.3],[21.155,1.43,0.35],[21.17,1.56,0.4],[21.185,1.22,0.5],[21.20,1.34,0.5],[21.215,0.97,0.5],[21.23,0.79,0.6],[21.25,1.50,0.5],[21.27,1.06,0.5],[21.29,0.85,0.6],[21.31,0.70,0.7],[21.33,0.67,0.7],[21.345,0.35,0.9],[21.36,-0.3,1.6],[21.385,-0.3,1.6],[21.395,0.53,0.9],[21.41,-0.3,1.6],[21.44,-0.3,1.6],[21.45,0.49,0.8],[21.47,1.91,0.3],[21.48,2.02,0.25],[21.495,1.95,0.3],[21.51,1.63,0.4],[21.53,1.31,0.5],[21.545,1.01,0.6],[21.56,1.04,0.6],[21.575,1.43,0.5],[21.59,0.83,0.7],[21.605,0.97,0.6],[21.62,0.51,0.8],[21.64,1.10,0.5],[21.655,0.88,0.6],[21.665,-0.3,1.6],[21.685,-0.3,1.6],[21.695,0.63,0.7],[21.71,0.79,0.6],[21.725,0.78,0.6],[21.74,1.43,0.4],[21.755,0.97,0.6],[21.77,0.76,0.6],[21.785,1.72,0.4],[21.80,1.29,0.5],[21.815,1.26,0.5],[21.83,1.17,0.5],[21.845,1.24,0.4],[21.86,1.50,0.3],[21.875,2.16,0.15],[21.89,2.96,0.08],[21.905,3.18,0.06],[21.92,2.77,0.06],[21.935,2.63,0.06],[21.95,2.34,0.08],[21.965,2.33,0.08],[21.98,2.45,0.08],[21.995,2.13,0.1],[22.01,1.84,0.2],[22.025,1.38,0.4],[22.035,1.10,0.5],[22.05,0.95,0.5],[22.065,0.92,0.5],[22.08,1.13,0.4],[22.09,1.29,0.4],[22.105,0.72,0.6],[22.115,-0.3,1.6],[22.13,-0.3,1.6],[22.14,0.78,0.6],[22.155,1.29,0.4],[22.17,1.30,0.4],[22.185,1.43,0.35],[22.20,1.26,0.4],[22.215,2.11,0.15],[22.235,2.80,0.08],[22.25,3.12,0.06],[22.265,3.25,0.06],[22.28,3.05,0.06],[22.295,2.82,0.06],[22.31,2.31,0.08],[22.325,2.15,0.08],[22.34,2.11,0.08],[22.355,1.98,0.08],[22.37,1.97,0.08],[22.385,2.06,0.06],[22.40,2.04,0.06],[22.42,1.97,0.06],[22.435,2.07,0.06],[22.45,2.27,0.05],[22.465,2.41,0.05],[22.48,2.63,0.05],[22.49,2.68,0.05],[22.505,2.64,0.05],[22.52,2.61,0.05],[22.54,2.63,0.05],[22.56,2.63,0.05],[22.575,2.86,0.05],[22.59,2.63,0.05],[22.605,2.64,0.05],[22.62,2.55,0.05],[22.635,2.54,0.05],[22.655,2.61,0.05],[22.67,2.75,0.05],[22.685,2.64,0.05],[22.70,2.48,0.05],[22.715,2.27,0.05],[22.73,2.07,0.06],[22.745,1.97,0.06],[22.76,1.93,0.06],[22.775,1.90,0.06],[22.79,1.79,0.08],[22.80,1.54,0.15],[22.82,1.63,0.15],[22.835,1.81,0.1],[22.85,1.93,0.08],[22.87,2.06,0.06],[22.88,2.13,0.06],[22.895,1.97,0.08],[22.91,2.11,0.06],[22.925,2.63,0.05],[22.94,2.64,0.05],[22.955,2.45,0.05],[22.97,2.51,0.05],[22.985,2.47,0.05],[23.00,2.11,0.08],[23.02,2.15,0.08],[23.035,2.41,0.06],[23.05,2.22,0.06],[23.07,2.23,0.06],[23.085,2.32,0.06],[23.10,2.18,0.06],[23.115,2.25,0.06],[23.13,2.23,0.06],[23.145,2.25,0.06],[23.16,1.97,0.1],[23.175,2.13,0.08],[23.19,2.00,0.08],[23.205,2.15,0.06],[23.22,2.20,0.06],[23.235,2.11,0.08],[23.25,1.81,0.2],[23.265,1.34,0.4],[23.28,0.49,0.8],[23.29,-0.3,1.5],[23.335,-0.3,1.5],[23.345,0.85,0.6],[23.36,1.20,0.4],[23.375,0.62,0.7],[23.39,0.46,0.8],[23.40,null,0],[23.72,null,0],[23.725,-0.3,1.3],[23.73,0.81,0.6],[23.74,1.13,0.4],[23.755,0.76,0.5]];
const lwpAdiabatic = [[21.00,1.20,0.1],[21.01,1.38,0.1],[21.025,2.43,0.08],[21.04,2.57,0.06],[21.06,2.99,0.06],[21.075,1.75,0.1],[21.093,2.34,0.06],[21.109,2.00,0.06],[21.12,1.98,0.06],[21.142,2.20,0.06],[21.158,2.54,0.06],[21.175,5.0,0.1],[21.19,1.36,0.3],[21.207,1.35,0.3],[21.224,1.06,0.4],[21.243,1.54,0.3],[21.257,5.0,0.2],[21.273,1.06,0.5],[21.287,1.06,0.5],[21.30,1.01,0.5],[21.317,1.02,0.5],[21.339,1.01,0.5],[21.361,1.01,0.5],[21.375,1.38,0.4],[21.392,1.01,0.5],[21.41,1.01,0.5],[21.426,1.02,0.5],[21.443,2.04,0.1],[21.459,1.88,0.15],[21.475,1.95,0.2],[21.492,2.14,0.2],[21.506,1.95,0.15],[21.525,1.74,0.15],[21.544,1.24,0.2],[21.557,1.10,0.3],[21.578,5.0,0.2],[21.593,2.02,0.2],[21.61,1.66,0.2],[21.626,2.45,0.15],[21.641,1.50,0.2],[21.659,1.56,0.2],[21.674,1.81,0.2],[21.692,1.58,0.2],[21.71,0.99,0.3],[21.727,1.45,0.2],[21.743,3.23,0.06],[21.76,1.95,0.1],[21.776,3.00,0.06],[21.795,3.30,0.06],[21.811,1.91,0.1],[21.827,1.54,0.1],[21.843,2.59,0.08],[21.86,2.47,0.08],[21.876,2.95,0.06],[21.893,3.55,0.05],[21.91,3.62,0.05],[21.927,3.51,0.05],[21.945,3.25,0.05],[21.962,3.17,0.05],[21.978,3.37,0.05],[21.995,3.31,0.05],[22.011,3.32,0.05],[22.027,3.43,0.05],[22.044,3.14,0.05],[22.06,2.11,0.08],[22.077,2.20,0.1],[22.093,1.79,0.15],[22.11,2.00,0.15],[22.127,1.26,0.3],[22.159,3.78,0.06],[22.175,1.49,0.2],[22.193,1.75,0.2],[22.209,1.36,0.3],[22.226,2.64,0.08],[22.243,2.86,0.06],[22.259,3.60,0.04],[22.276,3.59,0.04],[22.293,3.62,0.04],[22.31,3.53,0.04],[22.328,3.48,0.04],[22.344,3.57,0.04],[22.36,3.41,0.04],[22.377,3.35,0.04],[22.393,3.21,0.04],[22.41,3.12,0.04],[22.428,3.09,0.04],[22.442,3.19,0.04],[22.458,3.77,0.04],[22.475,3.73,0.04],[22.49,3.62,0.04],[22.51,3.69,0.04],[22.53,3.44,0.04],[22.555,3.30,0.04],[22.575,3.53,0.04],[22.592,3.40,0.04],[22.609,3.53,0.04],[22.625,3.43,0.04],[22.641,3.25,0.04],[22.658,3.27,0.04],[22.674,3.37,0.04],[22.691,3.45,0.04],[22.708,3.34,0.04],[22.726,3.12,0.04],[22.745,3.02,0.04],[22.762,3.17,0.04],[22.775,3.14,0.04],[22.794,1.63,0.15],[22.808,2.66,0.1],[22.824,3.03,0.06],[22.841,2.75,0.06],[22.857,2.73,0.06],[22.876,2.70,0.06],[22.892,2.98,0.06],[22.909,3.41,0.04],[22.926,3.41,0.04],[22.942,3.35,0.04],[22.959,2.95,0.04],[22.975,3.27,0.04],[22.991,3.23,0.04],[23.008,3.13,0.04],[23.024,3.12,0.04],[23.04,3.25,0.04],[23.057,3.26,0.04],[23.075,3.16,0.04],[23.092,3.27,0.04],[23.108,3.14,0.04],[23.124,3.14,0.04],[23.143,3.12,0.04],[23.159,2.57,0.06],[23.176,2.41,0.06],[23.192,2.45,0.08],[23.209,2.33,0.06],[23.225,3.21,0.06],[23.241,3.11,0.06],[23.259,3.23,0.06],[23.275,3.14,0.06],[23.283,1.74,0.15],[23.294,1.36,0.2],[23.31,1.59,0.2],[23.326,1.72,0.2],[23.343,1.01,0.3],[23.359,1.72,0.25],[23.378,1.29,0.3],[23.394,1.26,0.3],[23.408,1.33,0.3],[23.41,null,0],[23.71,null,0],[23.714,1.10,0.3],[23.73,1.66,0.2],[23.747,1.77,0.15],[23.765,1.10,0.3]];
// isolated retrievals drawn as crosses: [time, value, low, high]
const adiabaticCross = [[23.575,1.095,0.49,1.45],[23.875,1.095,0.49,1.45],[23.9417,1.095,0.49,1.45],[23.975,1.095,0.49,1.45]];
const phyCross = [[23.875,1.59,1.45,1.78],[23.9417,1.70,1.52,1.88],[23.975,1.81,1.62,1.96]];

// panel 5 : Phy-Iter DQ flag, minutes after 21 UTC that carry each flag value
const dqFlags = {
  0: [1,2,3,13,14,16,17,27,28,29,30,31,32,34,35,36,37,38,40,41,43,44,45,46,47,48,50,51,52,53,64,65,66,67,68,70,71,72,73,74,75,76,85,109,110,111,112,113,114,121,122,123,124,125,126,127,128,129,130,131,132,133,134,135,136,138,139,141,142,143,144,164,165,167,168,169,170,171,173,174,175,177,179],
  3: [69],
  4: [0,9,11,12,15,18,19,20,21,22,23,24,25,26,33,39,42,49,137,140,154,163,166,172,176,178],
  5: [145,146,147,148,149,150,151,152,153,155,156,157,158,159,160,161,162],
  6: [54,55,56,77,78,79,80],
  9: [4,55,78,79,80,89,90,94,95,96],
  10: [4,55,56,57,59,60,77,78,79,80,81,83,84,86,87,88,89,90,91,92,93,94,95,96,97,98,99,100,115,116,118],
  11: [4,5,6,7,8,9,10,55,56,57,58,59,60,61,62,63,77,78,79,80,81,82,83,84,86,87,88,89,90,91,92,93,94,95,96,97,98,99,100,101,102,103,104,105,106,107,108,115,116,117,118,119,120]
};

// ---------------- layout ----------------
const W = 3825, H = 6000;
const L = 375, R = 3004, PH = 907;
const tops = [296, 1421, 2546, 3671, 4796];
const axisBlue = '#0072BD', axisDark = '#262626';
const cBlue = '#0000FF', cLight = '#ADD8E6', cOrange = '#FF8C00', cPurple = '#800080';

const svg = d3.select('body').append('svg')
  .attr('width', W).attr('height', H)
  .attr('viewBox', [0, 0, W, H]);
svg.append('rect').attr('width', W).attr('height', H).attr('fill', '#fff');

const x = d3.scaleLinear().domain([21, 24]).range([L, R]);
const minT = m => 21 + m / 60;

function addPanel(i, ydom, yticks, ylabel, labX) {
  const top = tops[i], bot = top + PH;
  const y = d3.scaleLinear().domain(ydom).range([bot, top]);
  const g = svg.append('g').attr('id', 'panel' + i);
  g.append('clipPath').attr('id', 'clip' + i)
    .append('rect').attr('x', L).attr('y', top).attr('width', R - L).attr('height', PH);
  const plot = g.append('g').attr('clip-path', `url(#clip${i})`);
  const bands = g.append('g');
  const axes = g.append('g');

  // left axis, ticks pointing inward
  const ya = axes.append('g').attr('transform', `translate(${L},0)`)
    .call(d3.axisLeft(y).tickValues(yticks).tickSizeInner(-27).tickSizeOuter(0).tickPadding(31).tickFormat(d => String(d)))
    .attr('color', axisBlue);
  ya.select('.domain').attr('stroke-width', 2);
  ya.selectAll('.tick line').attr('stroke-width', 2);
  ya.selectAll('.tick text').attr('font-size', 37).attr('font-family', 'DejaVu Sans');

  // right axis line
  axes.append('line').attr('x1', R).attr('x2', R).attr('y1', top).attr('y2', bot)
    .attr('stroke', axisBlue).attr('stroke-width', 2);

  // bottom axis
  const xa = axes.append('g').attr('transform', `translate(0,${bot})`)
    .call(d3.axisBottom(x).tickValues(xTicks).tickSizeInner(-27).tickSizeOuter(0).tickPadding(38).tickFormat(d => String(d)))
    .attr('color', axisDark);
  xa.select('.domain').attr('stroke-width', 2);
  xa.selectAll('.tick line').attr('stroke-width', 2);
  xa.selectAll('.tick text').attr('font-size', 37).attr('font-family', 'DejaVu Sans');

  axes.append('text').attr('x', (L + R) / 2).attr('y', bot + 132)
    .attr('text-anchor', 'middle').attr('font-size', 47).attr('fill', axisDark)
    .text('UTC hours on 20240516');

  const yl = axes.append('text')
    .attr('transform', `translate(${labX},${(top + bot) / 2}) rotate(-90)`)
    .attr('text-anchor', 'middle').attr('font-size', 47).attr('fill', axisBlue);
  if (typeof ylabel === 'string') yl.text(ylabel);
  else ylabel(yl);

  return { plot, bands, axes, y, top, bot };
}

const lineOf = (y) => d3.line().defined(d => d[1] != null).x(d => x(d[0])).y(d => y(d[1]));
const areaOf = (y) => d3.area().defined(d => d[1] != null)
  .x(d => x(d[0])).y0(d => y(d[1] - d[2])).y1(d => y(d[1] + d[2]));

function drawLine(p, data, color, width) {
  p.plot.append('path').datum(data).attr('d', lineOf(p.y))
    .attr('fill', 'none').attr('stroke', color).attr('stroke-width', width)
    .attr('stroke-linejoin', 'round');
}
function drawArea(p, data, color, alpha) {
  p.plot.append('path').datum(data).attr('d', areaOf(p.y))
    .attr('fill', color).attr('fill-opacity', alpha).attr('stroke', 'none');
}
function drawBands(p, spans, color, alpha, ext) {
  p.bands.selectAll(null).data(spans).join('rect')
    .attr('x', d => x(d[0])).attr('width', d => x(d[1]) - x(d[0]))
    .attr('y', p.top).attr('height', PH + ext)
    .attr('fill', color).attr('fill-opacity', alpha);
}
const minuteSpans = mins => mins.map(m => [minT(m), minT(m + 1)]);

function legend(p, x0, x1, tx, rows) {
  const lg = p.axes.append('g');
  rows.forEach(r => {
    if (r.color) lg.append('line').attr('x1', x0).attr('x2', x1).attr('y1', r.y).attr('y2', r.y)
      .attr('stroke', r.color).attr('stroke-width', r.w);
    if (r.text) lg.append('text').attr('x', tx).attr('y', r.y).attr('dy', '0.35em')
      .attr('font-size', 39).attr('fill', '#000').text(r.text);
  });
}

// ---------------- panel 1 ----------------
const p1 = addPanel(0, [14.2, 97.6], [20, 30, 40, 50, 60, 70, 80, 90], 'Zenith BT 23 GHz, K', 258);
drawLine(p1, tb23Mwr2c, cBlue, 3);
drawLine(p1, tb23Mwr3c, cLight, 4);
drawLine(p1, tb23Phy, cOrange, 8);
drawBands(p1, wetWindow, 'rgb(210,180,140)', 0.5, 7);
legend(p1, 1940, 2174, 2200, [
  { y: 394, color: cBlue, w: 4, text: 'MWR 2C (tan = wet window)' },
  { y: 453, color: cLight, w: 4, text: 'MWR 3C' },
  { y: 511, color: cOrange, w: 8, text: 'Phy-Iter' }
]);

// ---------------- panel 2 ----------------
const p2 = addPanel(1, [7.8, 128.9], [20, 40, 60, 80, 100, 120], 'Zenith BT 31 GHz, K', 234);
drawLine(p2, tb31Mwr2c, cBlue, 3);
drawLine(p2, tb31Mwr3c, cLight, 4);
drawLine(p2, tb31Phy, cOrange, 8);
legend(p2, 1972, 2203, 2231, [
  { y: 1519, color: cBlue, w: 4, text: 'MWR2C' },
  { y: 1577, color: cLight, w: 4, text: 'MWR 3C (tan = rain flag)' },
  { y: 1636, color: cOrange, w: 8, text: 'Phy-Iter' }
]);

// ---------------- panel 3 ----------------
const p3 = addPanel(2, [0.7, 2.165], [0.8, 1, 1.2, 1.4, 1.6, 1.8, 2], 'Precip. Water Vapor, mm', 250);
drawLine(p3, pwvMwr2c, cBlue, 3);
drawLine(p3, pwvMwr3c, cLight, 4);
drawArea(p3, pwvPhy.map(d => [d[0], d[1], pwvPhyErr]), cOrange, 0.2);
drawLine(p3, pwvPhy, cOrange, 8);
drawBands(p3, minuteSpans(pwvBrownMinutes), 'rgb(165,42,42)', 0.5, 7);
drawBands(p3, minuteSpans(pwvTanMinutes), 'rgb(210,180,140)', 0.5, 7);
legend(p3, 454, 688, 715, [
  { y: 3112, color: cBlue, w: 4, text: 'MWR 2C PWV' },
  { y: 3171, color: cLight, w: 4, text: 'MWR 3C PWV' },
  { y: 3229, text: 'Phy-Iter PWV' },
  { y: 3284, color: cOrange, w: 8, text: '(tan = MWR 2C only)' },
  { y: 3338, text: '(brown = MWR 3C only)' }
]);

// ---------------- panel 4 ----------------
const p4 = addPanel(3, [-0.1, 4.5], [0, 0.5, 1, 1.5, 2, 2.5, 3, 3.5, 4, 4.5], t => {
  t.append('tspan').text('log10 Liquid Water Path, log10(g/m');
  t.append('tspan').attr('font-size', 33).attr('dy', -18).text('2');
  t.append('tspan').attr('dy', 18).text(')');
}, 250);
drawLine(p4, lwpMwr2c, cBlue, 3);
drawLine(p4, lwpMwr3c, cLight, 4);
drawArea(p4, lwpPhy, cOrange, 0.2);
phyCross.forEach(d => p4.plot.append('rect')
  .attr('x', x(d[0] - 1 / 120)).attr('width', x(1 / 60) - x(0))
  .attr('y', p4.y(d[3])).attr('height', p4.y(d[2]) - p4.y(d[3]))
  .attr('fill', cOrange).attr('fill-opacity', 0.2));
drawLine(p4, lwpPhy, cOrange, 8);
drawArea(p4, lwpAdiabatic, cPurple, 0.2);
adiabaticCross.forEach(d => p4.plot.append('rect')
  .attr('x', x(d[0] - 1 / 120)).attr('width', x(1 / 60) - x(0))
  .attr('y', p4.y(d[3])).attr('height', p4.y(d[2]) - p4.y(d[3]))
  .attr('fill', cPurple).attr('fill-opacity', 0.2));
drawLine(p4, lwpAdiabatic, cPurple, 3.5);
const cross = d3.symbol().type(d3.symbolX).size(550);
[[phyCross, cOrange], [adiabaticCross, cPurple]].forEach(([pts, col]) => {
  p4.plot.selectAll(null).data(pts).join('path')
    .attr('d', cross)
    .attr('transform', d => `translate(${x(d[0])},${p4.y(d[1])})`)
    .attr('fill', 'none').attr('stroke', col).attr('stroke-width', 6);
});
// flag bands derived from the DQ flags of panel 5
drawBands(p4, minuteSpans(dqFlags[11]), 'rgb(0,255,255)', 0.5, 0);
drawBands(p4, minuteSpans(dqFlags[5]), 'rgb(255,255,0)', 0.5, 0);
drawBands(p4, minuteSpans(dqFlags[4].concat(dqFlags[3])), 'rgb(211,211,211)', 0.5, 0);
legend(p4, 2301, 2533, 2560, [
  { y: 3737, color: cBlue, w: 4, text: 'MWR 2C LWP' },
  { y: 3795, color: cLight, w: 4, text: 'MWR 3C LWP' },
  { y: 3852, color: cOrange, w: 8, text: 'Phy-Iter LWP' },
  { y: 3910, color: cPurple, w: 4, text: 'Adiabatic LWP' }
]);

// ---------------- panel 5 ----------------
const p5 = addPanel(4, [-0.5, 11.5], [0, 2, 4, 6, 8, 10], 'MWR Phy Iter DQ Flag', 258);
const dqPoints = [];
Object.keys(dqFlags).forEach(f => dqFlags[f].forEach(m => dqPoints.push([minT(m + 0.5), +f])));
p5.plot.selectAll(null).data(dqPoints).join('circle')
  .attr('cx', d => x(d[0])).attr('cy', d => p5.y(d[1])).attr('r', 4)
  .attr('fill', cOrange);
</script>
</body>
</html>
